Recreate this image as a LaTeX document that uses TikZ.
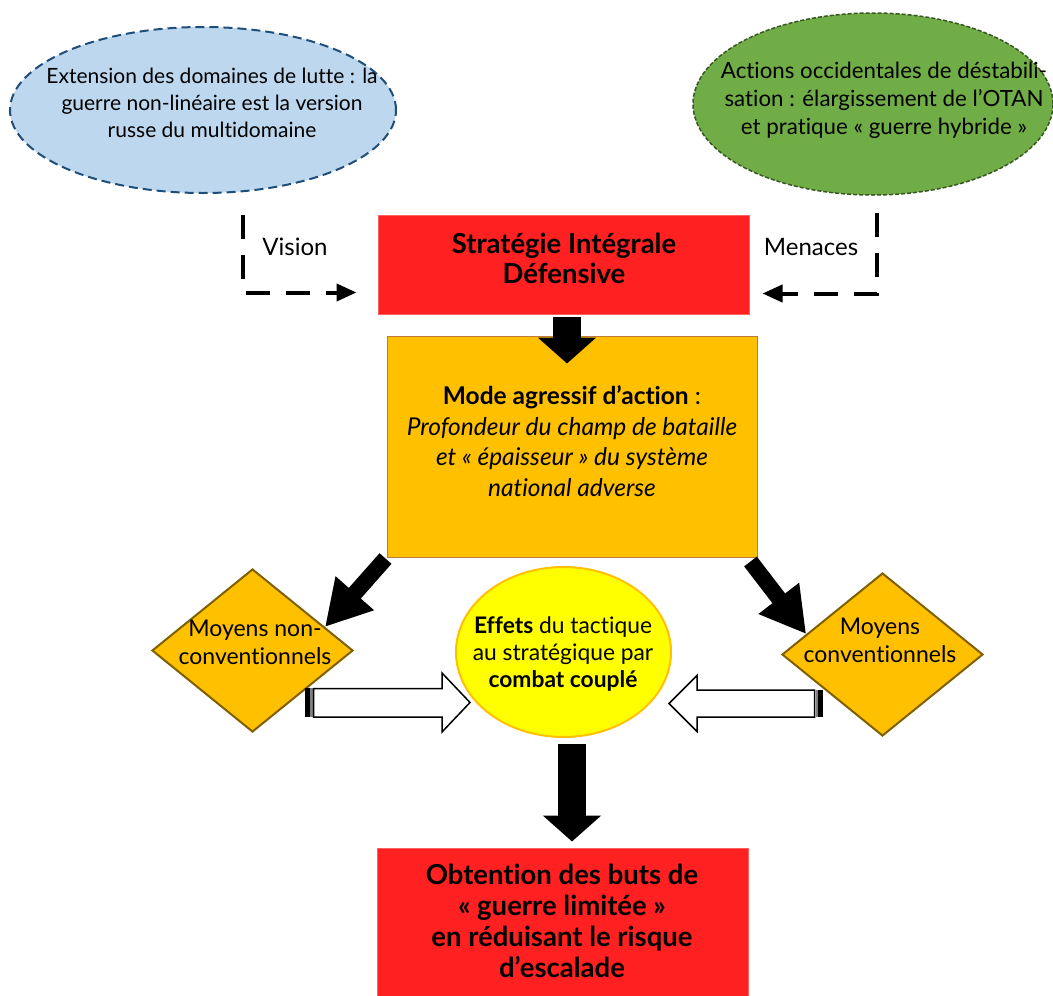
\documentclass[tikz,border=0pt]{standalone}
\usepackage{fontspec}
\setmainfont{Lato}[Ligatures={TeX,NoCommon}]
\usetikzlibrary{shapes.geometric,arrows.meta,calc}
\definecolor{cblue}{HTML}{BDD7EE}
\definecolor{cblueb}{HTML}{1F4E79}
\definecolor{cgreen}{HTML}{70AD47}
\definecolor{cgreenb}{HTML}{385723}
\definecolor{cred}{HTML}{FF2121}
\definecolor{credb}{HTML}{FF6060}
\definecolor{corange}{HTML}{FFC000}
\definecolor{corangeb}{HTML}{BF7B3C}
\definecolor{cdiab}{HTML}{7F6000}
\definecolor{cyellow}{HTML}{FFFF00}
\tikzset{
  redbox/.style={draw=credb, line width=1pt, fill=cred, inner sep=0pt, minimum width=371pt},
  orangebox/.style={draw=corangeb, line width=1pt, fill=corange, inner sep=0pt, minimum width=370pt, minimum height=221pt},
  blueell/.style={ellipse, draw=cblueb, fill=cblue, line width=2pt, dash pattern=on 9pt off 5pt, inner sep=0pt, minimum width=386pt, minimum height=166pt},
  greenell/.style={ellipse, draw=cgreenb, fill=cgreen, line width=1.5pt, dash pattern=on 4pt off 2pt, inner sep=0pt, minimum width=360pt, minimum height=182pt},
  yellell/.style={ellipse, draw=corange, fill=cyellow, line width=2pt, inner sep=0pt, minimum width=215pt, minimum height=170pt},
  diam/.style={diamond, draw=cdiab, fill=corange, line width=2pt, inner sep=0pt, minimum width=201pt, minimum height=163pt},
  txt/.style={align=center, inner sep=0pt, text=black},
  blockv/.style={line width=28pt, -{Triangle[length=26pt,width=57pt]}},
  blockd/.style={line width=16pt, -{Triangle[length=45pt,width=48pt]}},
  dasharr/.style={line width=4pt, dash pattern=on 24pt off 16pt, -{Triangle[length=20pt,width=17pt]}},
  hollow/.style={draw=black, fill=white, line width=1.5pt}
}
\begin{document}
\begin{tikzpicture}[x=1pt,y=-1pt]
\useasboundingbox (0,0) rectangle (1053,996);

% shapes
\node[blueell] (ext) at (203,110) {};
\node[greenell] (act) at (873,104) {};
\node[redbox, minimum height=99pt] (strat) at (563.5,264.5) {};
\node[orangebox] (mode) at (572,446.5) {};
\node[yellell] (eff) at (563.5,652) {};
\node[diam] (nonconv) at (252.5,650.5) {};
\node[diam] (conv) at (882.5,654.5) {};
\node[redbox, minimum height=150pt] (obt) at (562.5,923) {};

% texts
\node[txt, font=\fontsize{21}{26.7}\selectfont] (extT) at (212,103) {Extension des domaines de lutte : la\\guerre non-linéaire est la version\\russe du multidomaine};
\node[txt, font=\fontsize{22.3}{28}\selectfont] (actT) at (884,100) {Actions occidentales de déstabili-\\sation : élargissement de l’OTAN\\et pratique « guerre hybride »};
\node[txt, font=\fontsize{24}{28}\selectfont] (visT) at (295,247) {Vision};
\node[txt, font=\fontsize{24}{28}\selectfont] (menT) at (811,247) {Menaces};
\node[txt, font=\bfseries\fontsize{27.5}{30}\selectfont] (stratT) at (564,258) {Stratégie Intégrale\\Défensive};
\node[txt, font=\fontsize{24.5}{30.5}\selectfont] (modeT) at (572,441) {\textbf{Mode agressif d’action} :\\\textit{Profondeur du champ de bataille}\\\textit{et « épaisseur » du système}\\\textit{national adverse}};
\node[txt, font=\fontsize{22.8}{27}\selectfont] (effT) at (563,654) {\textbf{Effets} du tactique\\au stratégique par\\\textbf{combat couplé}};
\node[txt, font=\fontsize{23}{28}\selectfont] (nonconvT) at (255,642) {Moyens non-\\conventionnels};
\node[txt, font=\fontsize{23}{28}\selectfont] (convT) at (880,640) {Moyens\\conventionnels};
\node[txt, font=\bfseries\fontsize{27.5}{31}\selectfont] (obtT) at (562,921) {Obtention des buts de\\« guerre limitée »\\en réduisant le risque\\d’escalade};

% dashed elbow arrows
\coordinate (vis0) at (243,215);
\coordinate (men0) at (877,213);
\draw[dasharr] (vis0) |- ($(strat.south west)+(-21,-22)$);
\draw[dasharr] (men0) |- ($(strat.south east)+(13,-21)$);

% block arrows
\draw[blockv] ($(strat.south)+(3.5,2)$) -- ($(mode.north)+(-5,28)$);
\draw[blockv] ($(eff.south)+(8.5,6)$) -- ($(obt.north)+(9.5,-6)$);
\draw[blockd] ($(mode.south west)+(-1,1)$) -- (nonconv.18);
\draw[blockd] ($(mode.south east)+(-7,4)$) -- (conv.165);

% hollow arrows
\coordinate (hl) at (305,702.5);
\coordinate (hr) at (823,703.5);
\begin{scope}[shift={(hl)}]
  \fill[black] (0,-14.5) rectangle (5,14.5);
  \fill[gray] (5,-14.5) rectangle (7.5,14.5);
  \draw[hollow] (8.5,-14) -- (137,-14) -- (137,-29.5) -- (165,0) -- (137,29.5) -- (137,14.5) -- (8.5,14.5) -- cycle;
\end{scope}
\begin{scope}[shift={(hr)}, xscale=-1]
  \fill[black] (0,-13.5) rectangle (5,13.5);
  \fill[gray] (5,-13.5) rectangle (7.5,13.5);
  \draw[hollow] (8.5,-13.5) -- (126,-13.5) -- (126,-28) -- (154,0) -- (126,28) -- (126,13.5) -- (8.5,13.5) -- cycle;
\end{scope}
\end{tikzpicture}
\end{document}
